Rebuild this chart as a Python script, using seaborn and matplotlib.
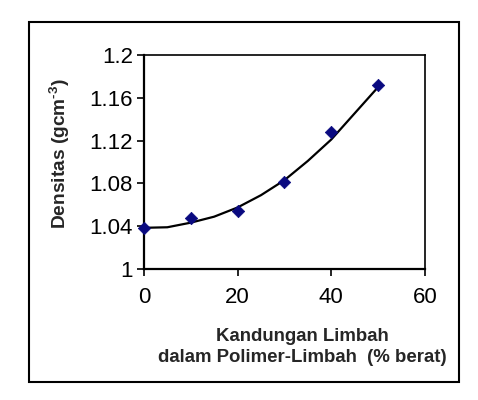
import matplotlib
matplotlib.use('Agg')
import matplotlib.pyplot as plt
import seaborn as sns
import pandas as pd

# measured points
kandungan = [0, 10, 20, 30, 40, 50]
densitas = [1.038, 1.048, 1.054, 1.081, 1.128, 1.172]

# trend line
trend_x = [0, 5, 10, 15, 20, 25, 30, 35, 40, 45, 50]
trend_y = [1.0385, 1.039, 1.0433, 1.0489, 1.0575, 1.069, 1.083, 1.101, 1.121, 1.1455, 1.17]

x_ticks = [0, 20, 40, 60]
y_ticks = [1, 1.04, 1.08, 1.12, 1.16, 1.2]
y_tick_labels = ['1', '1.04', '1.08', '1.12', '1.16', '1.2']

df = pd.DataFrame({'x': kandungan, 'y': densitas})
trend = pd.DataFrame({'x': trend_x, 'y': trend_y})

sns.set_style('white')
plt.rcParams['font.family'] = ['Liberation Sans', 'DejaVu Sans']
plt.rcParams['mathtext.fontset'] = 'custom'
plt.rcParams['mathtext.rm'] = 'Liberation Sans'
plt.rcParams['mathtext.bf'] = 'Liberation Sans:bold'

fig = plt.figure(figsize=(4.78, 4.0), dpi=100)
ax = fig.add_axes([0.301, 0.3275, 0.588, 0.535])

sns.lineplot(data=trend, x='x', y='y', color='black', linewidth=1.6, ax=ax)
sns.scatterplot(data=df, x='x', y='y', marker='D', s=40, color='#0a0a80',
                edgecolor='#0a0a80', zorder=3, ax=ax, clip_on=False)

ax.set_xlim(0, 60)
ax.set_ylim(1, 1.2)
ax.set_xticks(x_ticks)
ax.set_yticks(y_ticks)
ax.set_yticklabels(y_tick_labels)
ax.tick_params(axis='both', direction='out', length=5, width=1.2, labelsize=16,
               colors='black', bottom=True, left=True)
ax.tick_params(axis='x', pad=8)
ax.tick_params(axis='y', pad=3)
ax.set_xlabel('')
ax.set_ylabel('')
for s in ax.spines.values():
    s.set_color('black')
    s.set_linewidth(1.2)
ax.spines['left'].set_linewidth(1.6)
ax.spines['bottom'].set_linewidth(1.6)

fig.text(60 / 478, 1 - 154 / 400, 'Densitas (gcm$^{\\mathbf{\u2010}\\mathbf{3}}$)', rotation=90,
         ha='center', va='center', fontsize=13.8, fontweight='bold')
fig.text(302 / 478, 1 - 347 / 400, 'Kandungan Limbah\ndalam Polimer-Limbah  (% berat)',
         ha='center', va='center', fontsize=13.4, fontweight='bold',
         multialignment='center', linespacing=1.25)

# outer chart frame
fig.patches.append(plt.Rectangle((29 / 478, 18 / 400), 430 / 478, 360 / 400,
                                 transform=fig.transFigure, fill=False,
                                 edgecolor='black', linewidth=1.5))

fig.savefig('out.png', dpi=100)
